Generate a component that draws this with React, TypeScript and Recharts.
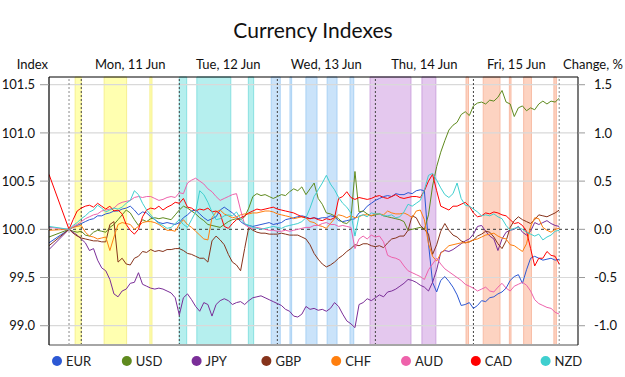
import React from 'react';
import { LineChart, Line, XAxis, YAxis, ReferenceArea, ReferenceLine } from 'recharts';

// Currency index levels (base 100), one value per hour; first value is the pre-open level
const currencyNames = ['EUR', 'USD', 'JPY', 'GBP', 'CHF', 'AUD', 'CAD', 'NZD'];
const currencyColors = ['#2c58d4', '#5f8a1e', '#7a2e98', '#86331b', '#ff7f0e', '#ee62ab', '#ff0000', '#3fcfcf'];

// hours relative to Monday 00:00
const hours = [-7.9, ...Array.from({ length: 121 }, (_, i) => i - 3)];

const eur = [99.86,
  100.00, 100.02, 100.04, 100.06, 100.08, 100.10, 100.11, 100.14, 100.14, 100.16,
  100.17, 100.19, 100.19, 100.21, 100.22, 100.24, 100.20, 100.15, 100.18, 100.17,
  100.13, 100.10, 100.07, 100.06, 100.07, 100.06, 100.05, 100.07, 100.12, 100.15,
  100.19, 100.20, 100.16, 100.12, 100.09, 100.11, 100.13, 100.20, 100.23, 100.20,
  100.17, 100.13, 100.08, 100.05, 100.04, 100.03, 100.04, 100.05, 100.06, 100.07,
  100.05, 100.06, 100.07, 100.10, 100.11, 100.12, 100.13, 100.14, 100.13, 100.11,
  100.12, 100.11, 100.12, 100.12, 100.14, 100.13, 100.09, 100.08, 100.09, 100.10,
  100.11, 100.17, 100.19, 100.24, 100.27, 100.30, 100.32, 100.34, 100.35, 100.34,
  100.37, 100.36, 100.36, 100.38, 100.37, 100.40, 100.41, 100.40, 99.85, 99.45,
  99.35, 99.47, 99.51, 99.46, 99.40, 99.32, 99.21, 99.22, 99.24, 99.18,
  99.21, 99.26, 99.25, 99.29, 99.30, 99.33, 99.35, 99.39, 99.47, 99.51,
  99.53, 99.44, 99.58, 99.70, 99.72, 99.70, 99.68, 99.69, 99.70, 99.68,
  99.69];

const usd = [99.92,
  100.00, 99.98, 99.97, 99.98, 99.94, 99.93, 99.97, 99.99, 99.98, 99.97,
  100.02, 100.05, 100.10, 100.15, 100.20, 100.17, 100.10, 100.04, 100.10, 100.08,
  100.11, 100.12, 100.11, 100.12, 100.11, 100.10, 100.15, 100.20, 100.24, 100.22,
  100.19, 100.16, 100.12, 100.09, 100.05, 100.04, 100.03, 100.02, 100.05, 100.08,
  100.10, 100.11, 100.10, 100.13, 100.22, 100.34, 100.37, 100.35, 100.36, 100.34,
  100.32, 100.34, 100.36, 100.35, 100.39, 100.42, 100.40, 100.44, 100.36, 100.42,
  100.48, 100.32, 100.26, 100.17, 100.16, 100.14, 100.11, 100.07, 100.06, 100.10,
  100.60, 100.18, 100.19, 100.16, 100.14, 100.15, 100.16, 100.14, 100.13, 100.12,
  100.11, 100.10, 100.08, 99.99, 100.00, 100.01, 100.02, 100.00, 100.15, 100.45,
  100.65, 100.80, 100.92, 101.03, 101.08, 101.11, 101.19, 101.22, 101.18, 101.28,
  101.31, 101.32, 101.30, 101.34, 101.33, 101.37, 101.44, 101.32, 101.30, 101.17,
  101.26, 101.28, 101.23, 101.26, 101.24, 101.30, 101.33, 101.30, 101.33, 101.32,
  101.36];

const jpy = [99.79,
  100.00, 99.97, 99.94, 99.90, 99.86, 99.78, 99.80, 99.68, 99.60, 99.57,
  99.48, 99.33, 99.30, 99.36, 99.38, 99.44, 99.45, 99.55, 99.43, 99.41,
  99.39, 99.38, 99.39, 99.38, 99.36, 99.34, 99.29, 99.11, 99.29, 99.33,
  99.27, 99.20, 99.15, 99.24, 99.22, 99.10, 99.22, 99.26, 99.28, 99.26,
  99.22, 99.24, 99.25, 99.22, 99.26, 99.29, 99.30, 99.31, 99.29, 99.27,
  99.25, 99.23, 99.21, 99.17, 99.15, 99.10, 99.09, 99.12, 99.20, 99.17,
  99.18, 99.16, 99.17, 99.15, 99.18, 99.24, 99.20, 99.12, 99.05, 99.02,
  98.98, 99.22, 99.24, 99.28, 99.26, 99.29, 99.32, 99.30, 99.35, 99.36,
  99.38, 99.41, 99.44, 99.48, 99.47, 99.45, 99.42, 99.40, 99.36, 99.45,
  99.58, 99.76, 99.78, 99.77, 99.79, 99.82, 99.85, 99.88, 99.90, 99.95,
  100.03, 100.04, 99.98, 99.93, 99.90, 99.78, 99.90, 99.97, 99.99, 100.00,
  100.03, 99.97, 99.94, 99.98, 100.07, 100.05, 100.07, 100.09, 100.06, 100.04,
  100.03];

const gbp = [99.83,
  100.00, 99.96, 99.93, 99.91, 99.90, 99.89, 99.88, 99.88, 99.87, 99.87,
  100.05, 100.08, 99.66, 99.70, 99.64, 99.63, 99.70, 99.72, 99.77, 99.76,
  99.79, 99.77, 99.78, 99.77, 99.79, 99.79, 99.80, 99.80, 99.78, 99.75,
  99.74, 99.72, 99.70, 99.70, 99.66, 99.88, 99.93, 99.89, 99.84, 99.74,
  99.66, 99.63, 99.57, 99.80, 100.02, 99.99, 99.97, 99.96, 99.96, 99.95,
  99.95, 99.95, 99.96, 99.95, 99.94, 99.94, 99.94, 99.92, 99.90, 99.84,
  99.75, 99.69, 99.64, 99.61, 99.63, 99.66, 99.70, 99.73, 99.77, 99.80,
  99.84, 99.83, 99.85, 99.85, 99.83, 99.82, 99.83, 99.81, 99.86, 99.90,
  99.91, 99.93, 99.93, 99.99, 100.14, 100.12, 100.04, 100.00, 99.95, 99.74,
  99.84, 99.98, 100.06, 99.99, 99.94, 99.92, 99.88, 99.86, 99.87, 99.89,
  99.93, 99.95, 99.98, 99.97, 99.92, 99.85, 99.80, 99.88, 100.02, 100.09,
  100.13, 100.10, 100.08, 100.06, 100.10, 100.15, 100.14, 100.13, 100.15, 100.17,
  100.20];

const chf = [99.99,
  100.00, 100.02, 100.03, 100.04, 99.97, 99.93, 99.92, 99.90, 99.91, 99.92,
  99.78, 99.92, 100.05, 100.07, 100.06, 100.05, 100.00, 100.03, 100.07, 100.08,
  100.08, 100.07, 100.05, 100.02, 99.99, 99.99, 99.98, 100.05, 100.10, 100.05,
  100.02, 99.98, 99.94, 99.90, 99.89, 100.12, 100.18, 100.20, 100.16, 100.14,
  100.12, 100.13, 100.15, 100.16, 100.16, 100.17, 100.17, 100.18, 100.19, 100.19,
  100.18, 100.16, 100.15, 100.14, 100.13, 100.11, 100.12, 100.13, 100.12, 100.08,
  100.07, 100.04, 100.03, 100.01, 100.06, 100.11, 100.15, 100.14, 100.12, 100.14,
  100.12, 100.13, 100.15, 100.15, 100.14, 100.16, 100.16, 100.15, 100.19, 100.17,
  100.16, 100.16, 100.17, 100.15, 100.12, 100.19, 100.20, 100.10, 99.85, 99.72,
  99.67, 99.75, 99.79, 99.83, 99.84, 99.85, 99.86, 99.86, 99.87, 99.89,
  99.90, 99.92, 99.94, 99.95, 99.96, 99.93, 99.91, 99.90, 99.84, 99.83,
  99.80, 99.77, 99.85, 100.03, 100.12, 100.11, 100.02, 99.99, 99.97, 100.00,
  100.01];

const aud = [100.02,
  100.00, 100.03, 100.05, 100.08, 100.11, 100.13, 100.15, 100.16, 100.19, 100.20,
  100.21, 100.22, 100.26, 100.28, 100.29, 100.30, 100.33, 100.34, 100.33, 100.34,
  100.34, 100.32, 100.30, 100.31, 100.33, 100.34, 100.33, 100.38, 100.37, 100.48,
  100.51, 100.53, 100.50, 100.47, 100.42, 100.39, 100.34, 100.30, 100.32, 100.34,
  100.36, 100.37, 100.20, 100.05, 100.02, 100.01, 100.02, 100.01, 100.00, 99.99,
  99.99, 99.98, 99.98, 99.99, 99.98, 99.99, 100.00, 100.01, 100.02, 100.02,
  100.04, 100.04, 100.06, 100.07, 100.05, 100.05, 100.03, 100.04, 100.03, 100.02,
  99.80, 99.90, 99.93, 99.90, 99.94, 99.92, 99.93, 99.87, 99.73, 99.71,
  99.70, 99.68, 99.62, 99.57, 99.55, 99.53, 99.51, 99.48, 99.58, 99.64,
  99.70, 99.64, 99.59, 99.56, 99.53, 99.50, 99.47, 99.43, 99.41, 99.39,
  99.36, 99.38, 99.40, 99.36, 99.35, 99.40, 99.44, 99.39, 99.36, 99.41,
  99.43, 99.45, 99.42, 99.36, 99.27, 99.23, 99.21, 99.19, 99.18, 99.14,
  99.12];

const cad = [100.57,
  100.00, 100.10, 100.19, 100.22, 100.24, 100.25, 100.23, 100.27, 100.24, 100.21,
  100.24, 100.19, 100.20, 100.16, 100.05, 99.99, 99.95, 100.00, 100.13, 100.20,
  100.22, 100.21, 100.24, 100.20, 100.23, 100.25, 100.28, 100.27, 100.32, 100.23,
  100.22, 100.19, 100.21, 100.20, 100.22, 100.18, 100.19, 100.16, 100.03, 100.01,
  100.06, 100.10, 100.12, 100.14, 100.17, 100.19, 100.21, 100.20, 100.21, 100.22,
  100.23, 100.21, 100.20, 100.19, 100.18, 100.17, 100.15, 100.13, 100.12, 100.11,
  100.12, 100.10, 100.09, 100.11, 100.10, 100.12, 100.32, 100.34, 100.39, 100.33,
  100.31, 100.33, 100.32, 100.31, 100.32, 100.34, 100.35, 100.33, 100.32, 100.34,
  100.36, 100.33, 100.32, 100.33, 100.34, 100.34, 100.33, 100.40, 100.50, 100.57,
  100.40, 100.24, 100.22, 100.20, 100.24, 100.24, 100.26, 100.28, 100.24, 100.17,
  100.13, 100.14, 100.17, 100.16, 100.18, 100.17, 100.15, 100.14, 100.10, 100.06,
  100.07, 100.04, 99.98, 99.80, 99.62, 99.70, 99.70, 99.77, 99.73, 99.72,
  99.64];

const nzd = [100.03,
  100.00, 100.04, 100.07, 100.11, 100.14, 100.18, 100.20, 100.25, 100.22, 100.18,
  100.20, 100.22, 100.21, 100.23, 100.27, 100.30, 100.40, 100.36, 100.27, 100.20,
  100.15, 100.10, 100.06, 100.04, 100.01, 100.02, 100.06, 100.10, 100.05, 100.02,
  100.10, 100.18, 100.40, 100.36, 100.28, 100.18, 100.10, 100.11, 100.14, 100.15,
  100.14, 100.18, 100.11, 100.06, 100.04, 100.02, 100.01, 100.00, 100.01, 100.02,
  100.03, 100.02, 100.01, 100.03, 100.04, 100.05, 100.06, 100.08, 100.12, 100.22,
  100.34, 100.41, 100.48, 100.56, 100.47, 100.41, 100.33, 100.27, 100.23, 100.17,
  99.93, 100.14, 100.15, 100.13, 100.17, 100.16, 100.16, 100.14, 100.14, 100.15,
  100.12, 100.13, 100.18, 100.26, 100.24, 100.27, 100.30, 100.41, 100.56, 100.58,
  100.51, 100.43, 100.36, 100.33, 100.37, 100.48, 100.32, 100.25, 100.24, 100.21,
  100.18, 100.14, 100.15, 100.14, 100.16, 100.13, 100.11, 100.04, 99.99, 100.01,
  100.02, 100.00, 99.97, 99.95, 99.93, 99.95, 99.89, 99.92, 99.94, 99.98,
  99.99];

const seriesValues = [eur, usd, jpy, gbp, chf, aud, cad, nzd];

// Axis ticks and labels
const indexTicks = [99, 99.5, 100, 100.5, 101, 101.5];
const changeTicks = [-1, -0.5, 0, 0.5, 1, 1.5];
const gridLevels = [99, 99.5, 100.5, 101, 101.5];
const dayCenters = [12, 36, 60, 84, 106.5];
const dayLabels = ['Mon, 11 Jun', 'Tue, 12 Jun', 'Wed, 13 Jun', 'Thu, 14 Jun', 'Fri, 15 Jun'];
const sessionLines = [-3, 0, 24, 48, 72, 96, 117];

// Highlighted news windows per day [start hour, end hour]
const mondayWindows = [[-1.5, 0], [5.6, 11.1], [16.8, 17.3]];
const tuesdayWindows = [[24, 25.8], [28.3, 36.6], [40.9, 42.2]];
const wednesdayWindows = [[46.5, 48.7], [51.1, 51.5], [55, 57.7], [60.2, 62.6], [65.8, 66.7]];
const thursdayWindows = [[70.7, 80.7], [83.4, 86.8]];
const fridayWindows = [[94.2, 94.8], [98.4, 102.5], [104.8, 105.2], [108.3, 110.2], [115.7, 116.3]];

const windowGroups = [
  { spans: mondayWindows, fill: '#ffffb0', stroke: '#f6f090' },
  { spans: tuesdayWindows, fill: '#b5efee', stroke: '#88e0e0' },
  { spans: wednesdayWindows, fill: '#cae3fa', stroke: '#a9d1f4' },
  { spans: thursdayWindows, fill: '#e4c8ee', stroke: '#cda4de' },
  { spans: fridayWindows, fill: '#fdd3c1', stroke: '#f8bba4' },
];

const X_DOMAIN: [number, number] = [-7.9, 121.6];
const INDEX_DOMAIN: [number, number] = [98.8, 101.58];
const CHANGE_DOMAIN: [number, number] = [-1.2, 1.58];

const rows = hours.map((h, i) => {
  const row: Record<string, number> = { h };
  currencyNames.forEach((name, k) => {
    row[name] = seriesValues[k][i];
  });
  return row;
});

const FONT = 'Lato, "Open Sans", "DejaVu Sans", sans-serif';
const tickStyle = { fill: '#111', fontSize: 13, fontFamily: FONT };

export default function App() {
  return (
    <div style={{ position: 'fixed', left: 0, top: 0, width: 625, height: 377, background: '#fff' }}>
      <LineChart width={625} height={377} data={rows} margin={{ top: 47, right: 0, bottom: 31, left: 0 }}>
        {windowGroups.map((g, gi) =>
          g.spans.map(([a, b], si) => (
            <ReferenceArea
              key={`w${gi}-${si}`}
              x1={a}
              x2={b}
              fill={g.fill}
              fillOpacity={1}
              stroke={g.stroke}
              strokeWidth={1}
            />
          ))
        )}
        {gridLevels.map((v) => (
          <ReferenceLine key={`g${v}`} y={v} stroke="#d9d9d9" strokeWidth={1.2} />
        ))}
        <ReferenceLine y={100} stroke="#3a3a3a" strokeDasharray="3 3" strokeWidth={1} />
        {sessionLines.map((h, i) => (
          <ReferenceLine
            key={`s${h}`}
            x={h}
            stroke={i === 0 || i === sessionLines.length - 1 ? '#8a8a8a' : '#444'}
            strokeDasharray="2 2"
            strokeWidth={1}
          />
        ))}
        <XAxis
          dataKey="h"
          type="number"
          domain={X_DOMAIN}
          allowDataOverflow
          tick={false}
          tickLine={false}
          axisLine={{ stroke: '#a6a6a6', strokeWidth: 2 }}
          height={1}
        />
        <XAxis
          xAxisId="days"
          dataKey="h"
          orientation="top"
          type="number"
          domain={X_DOMAIN}
          allowDataOverflow
          ticks={dayCenters}
          tickFormatter={(v: number) => dayLabels[dayCenters.indexOf(v)] ?? ''}
          interval={0}
          tickLine={false}
          tickSize={0}
          tickMargin={8}
          axisLine={{ stroke: '#000', strokeWidth: 1 }}
          tick={tickStyle}
          height={30}
        />
        <YAxis
          type="number"
          domain={INDEX_DOMAIN}
          allowDataOverflow
          ticks={indexTicks}
          interval={0}
          tickFormatter={(v: number) => v.toFixed(1)}
          width={49}
          tickSize={9}
          tickMargin={5}
          tickLine={{ stroke: '#9a9a9a' }}
          axisLine={{ stroke: '#000', strokeWidth: 1.2 }}
          tick={tickStyle}
        />
        <YAxis
          yAxisId="pct"
          orientation="right"
          type="number"
          domain={CHANGE_DOMAIN}
          allowDataOverflow
          ticks={changeTicks}
          interval={0}
          tickFormatter={(v: number) => v.toFixed(1)}
          width={47}
          tickSize={7}
          tickMargin={9}
          tickLine={{ stroke: '#9a9a9a' }}
          axisLine={{ stroke: '#222', strokeWidth: 1.2 }}
          tick={tickStyle}
        />
        {currencyNames.map((name, k) => (
          <Line
            key={name}
            dataKey={name}
            type="linear"
            stroke={currencyColors[k]}
            strokeWidth={1}
            dot={false}
            activeDot={false}
            isAnimationActive={false}
          />
        ))}
      </LineChart>
      <svg
        width={625}
        height={377}
        style={{ position: 'absolute', left: 0, top: 0, pointerEvents: 'none' }}
      >
        <text x={313} y={38} textAnchor="middle" fontFamily={FONT} fontSize={21} fill="#111">
          Currency Indexes
        </text>
        <text x={48} y={69} textAnchor="end" fontFamily={FONT} fontSize={13} fill="#111">
          Index
        </text>
        <text x={563} y={69} textAnchor="start" fontFamily={FONT} fontSize={13} fill="#111">
          Change, %
        </text>
        {currencyNames.map((name, k) => (
          <g key={`lg${name}`}>
            <circle cx={57 + 69.8 * k} cy={361} r={5} fill={currencyColors[k]} />
            <text x={66 + 69.8 * k} y={365.5} fontFamily={FONT} fontSize={13} fill="#222">
              {name}
            </text>
          </g>
        ))}
      </svg>
    </div>
  );
}
